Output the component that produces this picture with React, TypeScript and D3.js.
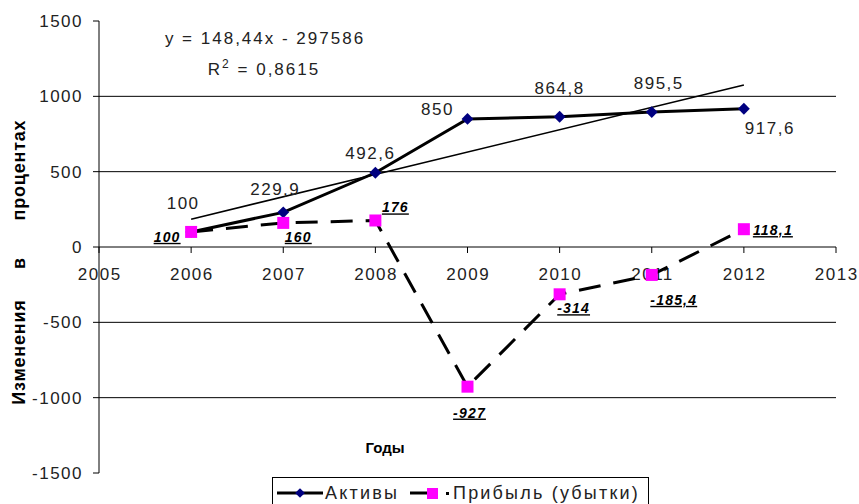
import React from "react";
import * as d3 from "d3";

const years = [2006, 2007, 2008, 2009, 2010, 2011, 2012];
const assets = [100, 229.9, 492.6, 850, 864.8, 895.5, 917.6];
const profit = [100, 160, 176, -927, -314, -185.4, 118.1];
const assetLabels = ["100", "229,9", "492,6", "850", "864,8", "895,5", "917,6"];
const profitLabels = ["100", "160", "176", "-927", "-314", "-185,4", "118,1"];
const xTicks = [2005, 2006, 2007, 2008, 2009, 2010, 2011, 2012, 2013];
const yTicks = [-1500, -1000, -500, 0, 500, 1000, 1500];
const gridValues = [-1000, -500, 500, 1000];
const trendSlope = 148.44;
const trendIntercept = -297586;
const equationText = "y = 148,44x - 297586";
const r2Value = "0,8615";
const yTitleWords = ["Изменения", "в", "процентах"];
const xTitle = "Годы";
const seriesNames = ["Активы", "Прибыль (убытки)"];

// label offsets (layout)
const assetLabelOffsets: [number, number][] = [
  [-8, -29], [-8, -23], [-5, -20], [-30, -10], [0, -29], [7, -29], [26, 19],
];
const profitLabelOffsets: [number, number][] = [
  [-24, 5], [15, 14], [20, -13], [2, 26], [14, 14], [22, 25], [29, 1],
];
const yTitleCenters = [352, 263, 170];

const FONT = "'Liberation Sans', Arial, sans-serif";

export default function App() {
  const W = 859, H = 504;
  const x = d3.scaleLinear().domain([2005, 2013]).range([99, 836]);
  const y = d3.scaleLinear().domain([-1500, 1500]).range([473, 21]);

  const line = d3.line<number>().x((_, i) => x(years[i])).y((d) => y(d));
  const trend = [years[0], years[years.length - 1]].map((yr) => [x(yr), y(trendSlope * yr + trendIntercept)]);

  const textColor = "#222";
  const fs = 17;
  const ls = 1.5;

  return (
    <svg width={W} height={H} style={{ position: "absolute", left: 0, top: 0 }} fontFamily={FONT}>
      <rect width={W} height={H} fill="#fff" />
      {gridValues.map((v) => (
        <line key={v} x1={x(2005)} x2={x(2013)} y1={y(v)} y2={y(v)} stroke="#000" strokeWidth={1} />
      ))}
      <line x1={x(2005)} x2={x(2005)} y1={y(1500)} y2={y(-1500)} stroke="#000" strokeWidth={1} />
      {yTicks.map((v) => (
        <g key={v}>
          <line x1={x(2005) - 6} x2={x(2005)} y1={y(v)} y2={y(v)} stroke="#000" />
          <text x={x(2005) - 16} y={y(v)} dy="0.35em" textAnchor="end" fontSize={fs} fill={textColor} letterSpacing={ls}>
            {v}
          </text>
        </g>
      ))}
      <line x1={x(2005)} x2={x(2013)} y1={y(0)} y2={y(0)} stroke="#000" strokeWidth={1} />
      {xTicks.map((t) => (
        <g key={t}>
          <line x1={x(t)} x2={x(t)} y1={y(0)} y2={y(0) + 6} stroke="#000" />
          <text x={x(t) + ls / 2} y={y(0) + 27} dy="0.35em" textAnchor="middle" fontSize={fs} fill={textColor} letterSpacing={ls}>
            {t}
          </text>
        </g>
      ))}
      <line x1={trend[0][0]} y1={trend[0][1]} x2={trend[1][0]} y2={trend[1][1]} stroke="#000" strokeWidth={1.6} />
      <path d={line(profit) || ""} fill="none" stroke="#000" strokeWidth={3} strokeDasharray="22 13" />
      <path d={line(assets) || ""} fill="none" stroke="#000" strokeWidth={3} />
      {assets.map((v, i) => (
        <path key={"a" + i} d={d3.symbol(d3.symbolDiamond2, 90)() || ""} transform={`translate(${x(years[i])},${y(v)})`} fill="#000080" />
      ))}
      {profit.map((v, i) => (
        <rect key={"p" + i} x={x(years[i]) - 6} y={y(v) - 6} width={12} height={12} fill="#ff00ff" />
      ))}
      {assets.map((v, i) => (
        <text key={"al" + i} x={x(years[i]) + assetLabelOffsets[i][0]} y={y(v) + assetLabelOffsets[i][1]} dy="0.35em" textAnchor="middle" fontSize={fs} fill={textColor} letterSpacing={ls}>
          {assetLabels[i]}
        </text>
      ))}
      {profit.map((v, i) => (
        <text key={"pl" + i} x={x(years[i]) + profitLabelOffsets[i][0]} y={y(v) + profitLabelOffsets[i][1]} dy="0.35em" textAnchor="middle" fontSize={14} fontWeight="bold" fontStyle="italic" textDecoration="underline" fill="#000" letterSpacing={1.2}>
          {profitLabels[i]}
        </text>
      ))}
      <text x={265} y={38} dy="0.35em" textAnchor="middle" fontSize={fs} fill={textColor} letterSpacing={2}>
        {equationText}
      </text>
      <text x={264} y={69} dy="0.35em" textAnchor="middle" fontSize={fs} fill={textColor} letterSpacing={2}>
        R<tspan dy="-7" fontSize={12}>2</tspan><tspan dy="7"> = {r2Value}</tspan>
      </text>
      {yTitleWords.map((w, i) => (
        <text key={w} transform={`translate(19,${yTitleCenters[i]}) rotate(-90)`} dy="0.35em" textAnchor="middle" fontSize={18} fontWeight="bold" fill="#000" letterSpacing={0.8}>
          {w}
        </text>
      ))}
      <text x={385} y={448} dy="0.35em" textAnchor="middle" fontSize={15} fontWeight="bold" fill="#000">
        {xTitle}
      </text>
      <rect x={272.5} y={477.5} width={376} height={32} fill="#fff" stroke="#000" strokeWidth={1} />
      <line x1={277} x2={323} y1={493} y2={493} stroke="#000" strokeWidth={3} />
      <path d={d3.symbol(d3.symbolDiamond2, 60)() || ""} transform="translate(300,493)" fill="#000080" />
      <text x={325} y={493} dy="0.35em" fontSize={18} fill={textColor} letterSpacing={2.2}>{seriesNames[0]}</text>
      <line x1={410} x2={428} y1={493} y2={493} stroke="#000" strokeWidth={3} />
      <rect x={427} y={488} width={11} height={11} fill="#ff00ff" />
      <rect x={446} y={492} width={3} height={3} fill="#000" />
      <text x={453} y={493} dy="0.35em" fontSize={18} fill={textColor} letterSpacing={2.2}>{seriesNames[1]}</text>
    </svg>
  );
}
